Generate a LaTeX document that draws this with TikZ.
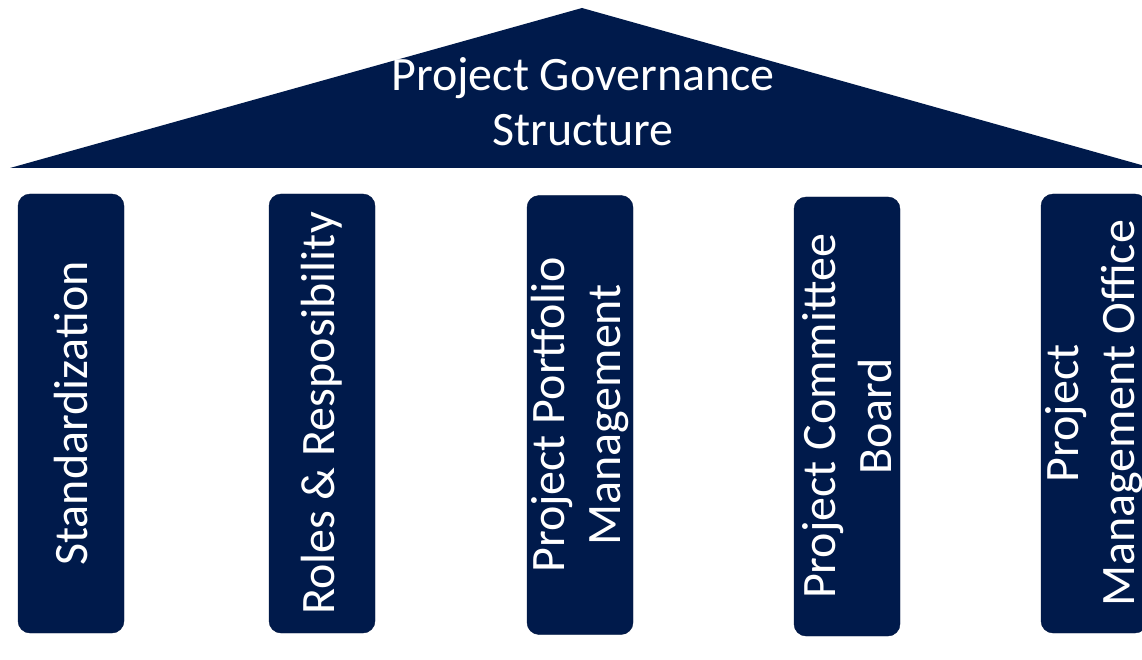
\documentclass[tikz,border=0pt]{standalone}
\usepackage{fontspec}
\setmainfont{Carlito}
\definecolor{navy}{HTML}{001A4B}
\begin{document}
\begin{tikzpicture}[x=1pt,y=-1pt]
            \tikzstyle{pillar}=[fill=navy, draw=navy!85!black, rounded corners=12pt, rotate=90, minimum width=439pt, minimum height=106pt, inner sep=0pt, text=white, align=center, font=\fontsize{48}{56}\selectfont]
            \useasboundingbox (0,0) rectangle (1142,660);
            \clip (0,0) rectangle (1142,660);
            % roof
            \coordinate (apex) at (582,8);
            \coordinate (eaveL) at (10,168);
            \coordinate (eaveR) at (1152,168);
            \fill [navy] (eaveL) -- (apex) -- (eaveR) -- cycle;
            \node [text=white, align=center, font=\fontsize{48}{55}\selectfont] (title) at (583,102) {Project Governance\\Structure};
            % pillars
            \node [pillar] (std) at (71,413.5) {Standardization};
            \node [pillar] (roles) at (322,413.5) {Roles \& Resposibility};
            \node [pillar] (ppm) at (580,415) {Project Portfolio\\Management};
            \node [pillar] (pcb) at (847,416.5) {Project Committee\\Board};
            \node [pillar] (pmo) at (1094,413.5) {Project\\Management Office};
\end{tikzpicture}
\end{document}
